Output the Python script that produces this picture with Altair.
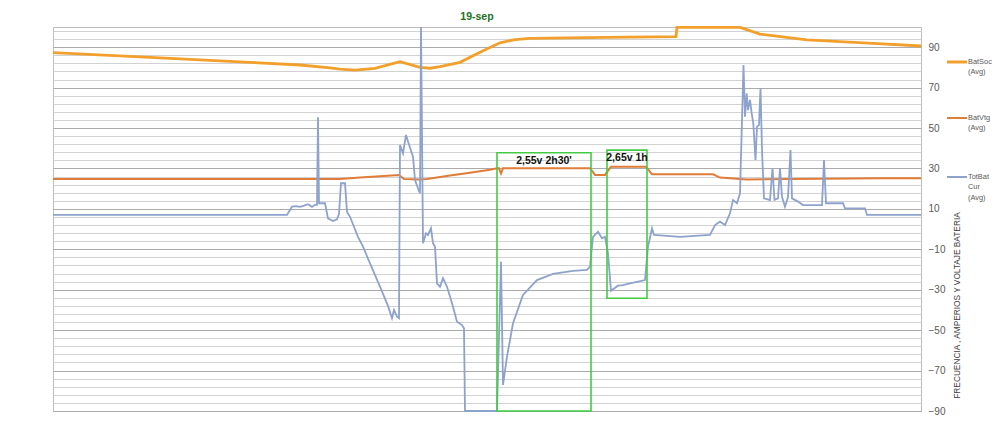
import altair as alt
import pandas as pd

# ---- data (x = sample index, y = value) ----
soc_t = [0, 97, 147, 197, 247, 277, 287, 302, 322, 347, 367, 377, 387, 407, 427, 447, 462, 477, 554, 623, 624, 687, 707, 754, 820, 868]
soc_v = [87.3, 85.0, 83.7, 82.5, 81.2, 79.8, 79.2, 78.7, 79.5, 82.8, 80.0, 79.6, 80.4, 82.5, 87.5, 92.2, 93.8, 94.4, 94.9, 95.2, 99.8, 99.8, 96.5, 93.6, 91.9, 90.6]

vtg_t = [0, 287, 307, 327, 346, 351, 367, 374, 397, 417, 437, 444, 446, 448, 450, 537, 542, 552, 558, 593, 599, 660, 667, 694, 827, 868]
vtg_v = [24.8, 24.8, 25.5, 26.2, 26.8, 24.8, 24.6, 24.8, 26.5, 27.9, 29.4, 30.1, 30.1, 27.5, 30.1, 30.1, 26.8, 26.8, 30.9, 30.9, 27.1, 27.1, 25.5, 24.6, 25.2, 25.2]

cur_t = [0, 234, 239, 243, 247, 251, 255, 259, 262, 264, 265, 266, 272, 275, 280, 284, 286, 288, 292, 294, 297,
         305, 310, 317, 327, 335, 339, 341, 344, 346, 347, 350, 353, 355, 360, 362, 365, 367, 368, 370, 373, 375,
         378, 380, 382, 384, 387, 390, 394, 397, 400, 404, 409, 411, 412, 444, 448, 450, 454, 460, 470, 484, 500,
         520, 534, 537, 540, 545, 549, 552, 555, 558, 565, 570, 577, 592, 595, 599, 601, 627, 657, 662, 667, 672,
         677, 680, 684, 687, 689, 690.5, 692, 693.7, 695, 697, 698.7, 700.3, 702.5, 704, 706, 707.5, 709, 711,
         717, 719.5, 721.5, 725, 727, 729, 732, 735, 737.5, 739, 745, 750, 769, 771, 773, 790, 792, 812, 814, 868]
cur_v = [7.0, 7.0, 11.1, 11.4, 11.0, 11.6, 12.3, 11.0, 12.0, 12.0, 55.3, 12.8, 12.8, 5.3, 4.0, 4.8, 7.5, 22.7, 22.7, 8.6, 6.1,
         -3.8, -8.7, -17.0, -28.5, -38.0, -44.1, -40.0, -43.3, -44.1, 41.6, 37.5, 46.6, 43.3, 35.8, 24.3, 20.2, 17.7, 100.0, -7.0, -2.1, -2.9,
         0.4, -7.0, -8.7, -26.8, -28.5, -24.3, -28.5, -33.4, -38.4, -45.8, -47.5, -49.1, -90.0, -90.0, -16.1, -77.1, -63.1, -46.6, -32.6, -25.2, -22.2,
         -20.7, -20.2, -18.6, -3.8, -1.3, -4.6, -3.8, -12.0, -30.5, -28.0, -27.7, -26.8, -25.2, -8.7, 0.4, -2.9, -3.8, -2.9, 2.0, 3.7, 2.0,
         7.8, 14.4, 12.8, 17.7, 54.0, 81.2, 55.6, 67.2, 58.9, 63.9, 57.3, 52.3, 34.2, 50.7, 51.5, 69.7, 39.1, 15.2,
         14.4, 30.1, 14.4, 15.2, 30.1, 16.0, 11.1, 15.9, 39.1, 15.2, 13.6, 11.9, 11.9, 34.2, 12.8, 12.8, 10.3, 10.3, 7.0, 7.0]

box_start = [444, 554]
box_end = [538, 594]
box_low = [-90.0, -34.2]
box_high = [37.8, 39.1]
box_label = ["2,55v 2h30'", "2,65v 1h"]

series_names = ["BatSoc\n(Avg)", "BatVtg\n(Avg)", "TotBat\nCur\n(Avg)"]
series_colors = ["#F2A02B", "#E07C38", "#8DA2CC"]

tick_values = list(range(-90, 99, 4))

df_soc = pd.DataFrame({"t": soc_t, "v": soc_v})
df_vtg = pd.DataFrame({"t": vtg_t, "v": vtg_v})
df_cur = pd.DataFrame({"t": cur_t, "v": cur_v})
df_box = pd.DataFrame({"s": box_start, "e": box_end, "lo": box_low, "hi": box_high, "lab": box_label})
df_box["mid"] = (df_box["s"] + df_box["e"]) / 2
dummy = pd.DataFrame({"a": [0]})

XS = alt.Scale(domain=[0, 868], nice=False, zero=False)
YS = alt.Scale(domain=[-90, 100], nice=False, zero=False)

AX = alt.Axis(
    orient="right",
    values=tick_values,
    labelExpr="(datum.value + 90) % 20 == 0 ? datum.label : ''",
    grid=True,
    gridColor={"condition": {"test": "(datum.value + 90) % 20 == 0", "value": "#ababab"}, "value": "#d2d2d2"},
    gridWidth=1,
    ticks=False,
    domain=False,
    labelPadding=7,
    labelFontSize=10,
    labelColor="#595959",
    labelFont="Liberation Sans",
    labelOverlap=False,
    labelFlush=False,
    title="FRECUENCIA , AMPERIOS Y VOLTAJE BATERIA",
    titleAngle=270,
    titleX=36,
    titleY=278,
    titleAlign="center",
    titleBaseline="middle",
    titleFontSize=8.3,
    titleFontWeight="normal",
    titleColor="#404040",
    titleFont="Liberation Sans",
)


def ych(field):
    return alt.Y(field, type="quantitative", scale=YS, axis=AX)


def xch(field):
    return alt.X(field, type="quantitative", scale=XS, axis=None)


soc = alt.Chart(df_soc).mark_line(color=series_colors[0], strokeWidth=2.8).encode(x=xch("t"), y=ych("v"))
vtg = alt.Chart(df_vtg).mark_line(color=series_colors[1], strokeWidth=2).encode(x=xch("t"), y=ych("v"))
cur = alt.Chart(df_cur).mark_line(color=series_colors[2], strokeWidth=1.8).encode(x=xch("t"), y=ych("v"))

boxes = alt.Chart(df_box).mark_rect(fill="transparent", stroke="#43CC43", strokeWidth=1.6).encode(
    x=xch("s"), x2="e", y=ych("lo"), y2="hi"
)
box_text = alt.Chart(df_box).mark_text(
    font="Liberation Sans", fontWeight="bold", fontSize=10.5, color="#111111",
    baseline="middle", align="center", dy=8
).encode(x=xch("mid"), y=ych("hi"), text="lab:N")

legend_layers = []
legend_y = [35, 91, 150]
for name, col, ly, sw in zip(series_names, series_colors, legend_y, [3, 2, 2]):
    legend_layers.append(
        alt.Chart(dummy).mark_rule(color=col, strokeWidth=sw).encode(
            x=alt.value(894), x2=alt.value(914), y=alt.value(ly)
        )
    )
    legend_layers.append(
        alt.Chart(dummy).mark_text(
            align="left", baseline="top", lineBreak="\n", fontSize=7.4, lineHeight=10.3,
            color="#595959", font="Liberation Sans"
        ).encode(x=alt.value(915), y=alt.value(ly - 4), text=alt.value(name))
    )

chart = alt.layer(soc, vtg, cur, boxes, box_text, *legend_layers).properties(
    width=868,
    height=384,
    autosize=alt.AutoSizeParams(type="none"),
    padding={"left": 45, "top": 19, "right": 71, "bottom": 16},
    title=alt.TitleParams(
        "19-sep", color="#237023", fontSize=10.5, fontWeight="bold",
        font="Liberation Sans", anchor="middle", frame="group", dx=-10, dy=9, offset=8
    ),
).configure_view(stroke="#bdbdbd", strokeWidth=1)

chart.save("out.html", embed_options={"renderer": "svg", "actions": False})
